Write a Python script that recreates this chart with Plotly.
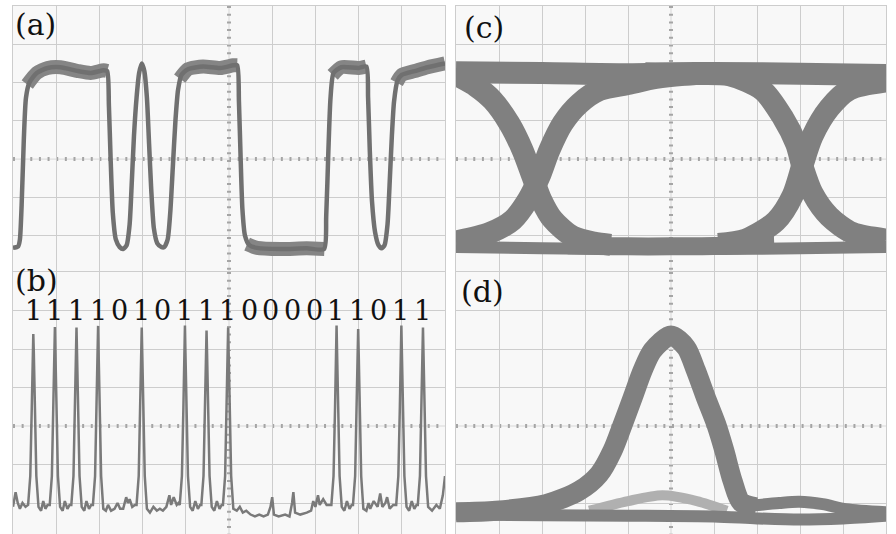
import plotly.graph_objects as go

# ---------------- data (in screen divisions: x 0..10, y -4..4) ----------------
BITS = ["1", "1", "1", "1", "0", "1", "0", "1", "1", "1", "0", "0", "0", "0", "1", "1", "0", "1", "1"]
BIT_POS = [0.47, 0.97, 1.47, 1.97, 2.47, 2.97, 3.47, 3.97, 4.47, 4.97,
           5.47, 5.97, 6.47, 6.97, 7.47, 7.97, 8.47, 8.97, 9.47]
LABELS = ["(a)", "(b)", "(c)", "(d)"]

# (a) NRZ waveform (thin trace) and its noisy plateaus (thick bands)
A_X = [0.0, 0.12, 0.16, 0.2, 0.25, 0.3, 0.38, 0.55, 0.8, 1.1, 1.5, 1.8, 2.1, 2.18,
       2.22, 2.26, 2.31, 2.38, 2.47, 2.55, 2.63, 2.7, 2.75, 2.8, 2.86, 2.92, 2.98,
       3.04, 3.1, 3.15, 3.2, 3.26, 3.34, 3.44, 3.5, 3.58, 3.64, 3.7, 3.76, 3.82, 3.9,
       4.05, 4.4, 4.8, 5.1, 5.19, 5.23, 5.27, 5.31, 5.37, 5.47, 5.65, 6.2, 6.8, 7.2,
       7.25, 7.3, 7.35, 7.42, 7.6, 8.0, 8.18, 8.22, 8.26, 8.31, 8.38, 8.46, 8.53,
       8.6, 8.67, 8.72, 8.77, 8.82, 8.9, 9.0, 9.3, 9.6, 10.0]
A_Y = [-2.32, -2.28, -2.1, -1.2, 0.5, 1.6, 2.0, 2.25, 2.38, 2.4, 2.3, 2.25, 2.32, 2.3,
       1.4, 0.0, -1.4, -2.1, -2.3, -2.35, -2.25, -1.7, -0.6, 0.6, 1.6, 2.25, 2.5,
       2.3, 1.6, 0.4, -0.8, -1.8, -2.2, -2.3, -2.3, -2.1, -1.4, -0.2, 1.0, 1.8, 2.2,
       2.35, 2.42, 2.38, 2.45, 2.45, 1.5, 0.0, -1.3, -2.0, -2.25, -2.32, -2.35, -2.33, -2.35,
       -1.5, 0.2, 1.6, 2.25, 2.4, 2.38, 2.42, 1.6, 0.2, -1.1, -1.9, -2.25, -2.33,
       -2.25, -1.7, -0.6, 0.6, 1.5, 2.05, 2.2, 2.3, 2.4, 2.5]
A_BAND_X = [0.33, 0.55, 0.8, 1.1, 1.5, 1.8, 2.1, 2.18, None,
            3.86, 4.05, 4.4, 4.8, 5.1, 5.19, None,
            7.4, 7.6, 8.0, 8.18, None,
            8.88, 9.0, 9.3, 9.6, 10.0, None,
            5.42, 5.65, 6.2, 6.8, 7.21]
A_BAND_Y = [1.95, 2.25, 2.38, 2.4, 2.3, 2.25, 2.32, 2.3, None,
            2.1, 2.35, 2.42, 2.38, 2.45, 2.45, None,
            2.2, 2.4, 2.38, 2.42, None,
            2.0, 2.2, 2.3, 2.4, 2.5, None,
            -2.22, -2.32, -2.35, -2.33, -2.35]

# (b) RZ pulse train
B_X = [0.0, 0.06, 0.11, 0.16, 0.22, 0.29,
       0.35, 0.40, 0.435, 0.458, 0.47, 0.482, 0.505, 0.54, 0.59,
       0.65, 0.70, 0.75, 0.80,
       0.85, 0.90, 0.935, 0.958, 0.97, 0.982, 1.005, 1.04, 1.09,
       1.15, 1.20, 1.26, 1.31,
       1.35, 1.40, 1.435, 1.458, 1.47, 1.482, 1.505, 1.54, 1.59,
       1.65, 1.70, 1.76, 1.81,
       1.85, 1.90, 1.935, 1.958, 1.97, 1.982, 2.005, 2.04, 2.09,
       2.15, 2.20, 2.27, 2.35, 2.42, 2.48, 2.55, 2.62, 2.66, 2.70, 2.76, 2.82,
       2.86, 2.91, 2.945, 2.968, 2.98, 2.992, 3.015, 3.05, 3.10,
       3.17, 3.25, 3.33, 3.40, 3.47, 3.55, 3.62, 3.66, 3.72, 3.79, 3.83,
       3.86, 3.91, 3.945, 3.968, 3.98, 3.992, 4.015, 4.05, 4.10,
       4.16, 4.22, 4.28, 4.33,
       4.36, 4.41, 4.445, 4.468, 4.48, 4.492, 4.515, 4.55, 4.60,
       4.66, 4.72, 4.78, 4.83,
       4.86, 4.91, 4.945, 4.968, 4.98, 4.992, 5.015, 5.05, 5.10,
       5.18, 5.25, 5.32, 5.40, 5.50, 5.60, 5.70, 5.80, 5.90, 5.96, 6.00, 6.04, 6.15,
       6.30, 6.40, 6.46, 6.49, 6.53, 6.65, 6.80, 6.90, 6.95, 7.00, 7.06, 7.10, 7.18, 7.26,
       7.37, 7.42, 7.455, 7.478, 7.49, 7.502, 7.525, 7.56, 7.61,
       7.67, 7.73, 7.79, 7.84,
       7.87, 7.92, 7.955, 7.978, 7.99, 8.002, 8.025, 8.06, 8.11,
       8.18, 8.23, 8.27, 8.35, 8.44, 8.50, 8.55, 8.62, 8.66, 8.72, 8.80,
       8.87, 8.92, 8.955, 8.978, 8.99, 9.002, 9.025, 9.06, 9.11,
       9.17, 9.23, 9.29, 9.34,
       9.37, 9.42, 9.455, 9.478, 9.49, 9.502, 9.525, 9.56, 9.61,
       9.70, 9.80, 9.88, 9.95, 10.0]
B_Y = [-2.1, -1.72, -2.0, -2.15, -2.0, -2.1,
       -2.05, -1.3, 0.5, 1.9, 2.39, 1.9, 0.5, -1.3, -2.1,
       -2.2, -1.95, -2.15, -2.05,
       -2.05, -1.3, 0.5, 1.9, 2.57, 1.9, 0.5, -1.3, -2.1,
       -2.2, -1.95, -2.15, -2.05,
       -2.05, -1.3, 0.5, 1.9, 2.56, 1.9, 0.5, -1.3, -2.1,
       -2.2, -1.95, -2.15, -2.05,
       -2.05, -1.3, 0.5, 1.9, 2.6, 1.9, 0.5, -1.3, -2.15,
       -2.2, -2.05, -2.2, -2.15, -2.0, -2.15, -2.15, -1.85, -2.0, -1.9, -2.1, -2.05,
       -2.05, -1.3, 0.5, 1.9, 2.56, 1.9, 0.5, -1.3, -2.15,
       -2.25, -2.1, -2.2, -2.15, -2.2, -2.1, -1.8, -2.05, -1.85, -2.05, -2.0,
       -2.05, -1.3, 0.5, 1.9, 2.61, 1.9, 0.5, -1.3, -2.1,
       -2.2, -1.95, -2.15, -2.05,
       -2.05, -1.3, 0.5, 1.9, 2.48, 1.9, 0.5, -1.3, -2.1,
       -2.2, -1.95, -2.15, -2.05,
       -2.05, -1.3, 0.5, 1.9, 2.56, 1.9, 0.5, -1.3, -2.15,
       -2.2, -2.1, -2.25, -2.2, -2.3, -2.35, -2.3, -2.35, -2.3, -2.1, -1.85, -2.3, -2.35,
       -2.3, -2.35, -2.0, -1.72, -2.25, -2.3, -2.25, -2.2, -1.95, -2.1, -1.8, -2.05, -1.9, -2.05,
       -2.05, -1.3, 0.5, 1.9, 2.61, 1.9, 0.5, -1.3, -2.1,
       -2.2, -1.95, -2.15, -2.05,
       -2.05, -1.3, 0.5, 1.9, 2.52, 1.9, 0.5, -1.3, -2.15,
       -2.2, -2.0, -2.15, -1.95, -2.1, -1.75, -2.1, -2.0, -1.85, -2.15, -2.05,
       -2.05, -1.3, 0.5, 1.9, 2.61, 1.9, 0.5, -1.3, -2.1,
       -2.2, -1.95, -2.15, -2.05,
       -2.05, -1.3, 0.5, 1.9, 2.56, 1.9, 0.5, -1.3, -2.1,
       -2.2, -2.05, -2.15, -1.8, -1.3]

# (c) NRZ eye diagram: rails and transition bands
C_TOP_X = [0.0, 2.0, 4.0, 5.0, 6.0, 8.0, 10.0]
C_TOP_Y = [2.27, 2.25, 2.22, 2.24, 2.25, 2.23, 2.2]
C_BOT_X = [0.0, 2.0, 4.0, 6.0, 8.0, 10.0]
C_BOT_Y = [-2.3, -2.33, -2.35, -2.35, -2.33, -2.3]
C_MID_X = [2.6, 4.0, 5.0, 6.0, 7.4]
C_MID_Y = [-2.25, -2.28, -2.28, -2.27, -2.22]
C_FALL1_X = [0.0, 0.47, 0.85, 1.24, 1.55, 1.78, 1.98, 2.25, 2.71, 3.2, 3.6]
C_FALL1_Y = [2.2, 1.9, 1.54, 0.93, 0.23, -0.46, -1.06, -1.58, -2.02, -2.18, -2.24]
C_RISE1_X = [0.0, 0.78, 1.32, 1.67, 1.94, 2.17, 2.48, 2.87, 3.33, 4.03, 4.65, 5.3, 6.0]
C_RISE1_Y = [-2.15, -1.93, -1.59, -1.07, -0.46, 0.23, 0.93, 1.45, 1.8, 1.97, 2.12, 2.2, 2.24]
C_FALL2_X = [4.4, 5.3, 6.36, 7.13, 7.6, 7.91, 8.06, 8.29, 8.68, 9.22, 10.0]
C_FALL2_Y = [2.24, 2.22, 2.19, 1.8, 1.09, 0.4, -0.2, -0.89, -1.5, -1.93, -2.1]
C_RISE2_X = [6.1, 6.74, 7.44, 7.83, 8.06, 8.29, 8.68, 9.15, 10.0]
C_RISE2_Y = [-2.22, -2.1, -1.62, -0.95, -0.15, 0.6, 1.33, 1.82, 2.03]

# (d) RZ eye diagram
D_BOT_X = [0.0, 2.0, 4.0, 6.0, 7.0, 8.0, 9.0, 10.0]
D_BOT_Y = [-2.3, -2.32, -2.33, -2.35, -2.4, -2.43, -2.4, -2.33]
D_PULSE_X = [0.0, 0.93, 2.09, 2.87, 3.33, 3.64, 3.88, 4.11, 4.34, 4.57, 5.0,
             5.35, 5.58, 5.81, 6.05, 6.24, 6.43, 6.63, 6.98]
D_PULSE_Y = [-2.24, -2.2, -2.03, -1.68, -1.25, -0.64, 0.05, 0.74, 1.44, 1.96, 2.35,
             2.04, 1.44, 0.74, 0.05, -0.64, -1.42, -1.98, -2.11]
D_HUMP_X = [6.6, 7.52, 7.98, 8.53, 9.07, 10.0]
D_HUMP_Y = [-2.1, -2.0, -1.97, -2.03, -2.16, -2.24]
D_ZERO_X = [3.1, 4.0, 4.8, 5.6, 6.3]
D_ZERO_Y = [-2.2, -1.95, -1.8, -1.95, -2.2]

# ---------------- figure ----------------
W, H = 896, 534
XL = [13 / W, 445 / W]
XR = [456 / W, 886 / W]
YT = [1 - 272 / H, 1 - 6 / H]
YB = [0.0, 1 - 272 / H]
RANGE_T = [-2.95, 4]
RANGE_B = [-2.805, 4]

GRID = "#cdcdcd"
BAND = "#808080"
TRACE = "#707070"
SERIF = "DejaVu Serif"

fig = go.Figure()

def line(x, y, ax, width, color, shape="spline", smoothing=0.8):
    xa, ya = ax
    fig.add_trace(go.Scatter(
        x=x, y=y, xaxis=xa, yaxis=ya, mode="lines",
        line=dict(width=width, color=color, shape=shape,
                  smoothing=smoothing if shape == "spline" else None),
        hoverinfo="skip", showlegend=False, connectgaps=False))

AX = {"a": ("x", "y"), "b": ("x2", "y2"), "c": ("x3", "y3"), "d": ("x4", "y4")}

# (a)
line(A_BAND_X, A_BAND_Y, AX["a"], 14, "#858585", smoothing=0.6)
line(A_X, A_Y, AX["a"], 4.5, TRACE, smoothing=0.6)
# (b)
line(B_X, B_Y, AX["b"], 2.5, "#7a7a7a", shape="linear")
# (c)
line(C_BOT_X, C_BOT_Y, AX["c"], 12, BAND)
line(C_MID_X, C_MID_Y, AX["c"], 18, BAND)
line(C_TOP_X, C_TOP_Y, AX["c"], 22, BAND)
line(C_FALL1_X, C_FALL1_Y, AX["c"], 22, BAND)
line(C_RISE1_X, C_RISE1_Y, AX["c"], 22, BAND)
line(C_FALL2_X, C_FALL2_Y, AX["c"], 22, BAND)
line(C_RISE2_X, C_RISE2_Y, AX["c"], 22, BAND)
# (d)
line(D_ZERO_X, D_ZERO_Y, AX["d"], 10, "#b0b0b0")
line(D_BOT_X, D_BOT_Y, AX["d"], 12, BAND)
line(D_HUMP_X, D_HUMP_Y, AX["d"], 12, BAND)
line(D_PULSE_X, D_PULSE_Y, AX["d"], 20, BAND)

def xaxis(dom):
    return dict(domain=dom, range=[0, 10], tickvals=[1, 2, 3, 4, 6, 7, 8, 9],
                showgrid=True, gridcolor=GRID, gridwidth=1, showticklabels=False,
                ticks="", zeroline=False, showline=True, linecolor=GRID,
                linewidth=1, side="top", fixedrange=True)

def yaxis(dom, rng, anchor):
    return dict(domain=dom, range=rng, tickvals=[-2, -1, 1, 2, 3],
                showgrid=True, gridcolor=GRID, gridwidth=1, showticklabels=False,
                ticks="", zeroline=False, showline=True, mirror=True,
                linecolor=GRID, linewidth=1, anchor=anchor, fixedrange=True)

fig.update_layout(
    width=W, height=H, margin=dict(l=0, r=0, t=0, b=0),
    paper_bgcolor="#ffffff", plot_bgcolor="#f8f8f8",
    xaxis=dict(xaxis(XL), anchor="y"), yaxis=yaxis(YT, RANGE_T, "x"),
    xaxis2=dict(xaxis(XL), anchor="y2"), yaxis2=yaxis(YB, RANGE_B, "x2"),
    xaxis3=dict(xaxis(XR), anchor="y3"), yaxis3=yaxis(YT, RANGE_T, "x3"),
    xaxis4=dict(xaxis(XR), anchor="y4"), yaxis4=yaxis(YB, RANGE_B, "x4"),
)

# centre cross lines with graticule ticks
shapes = []
for xa, ya in AX.values():
    shapes += [
        dict(type="line", xref=f"{xa} domain", yref=ya, x0=0, x1=1, y0=0, y1=0,
             line=dict(color="#d8d8d8", width=1), layer="below"),
        dict(type="line", xref=f"{xa} domain", yref=ya, x0=0, x1=1, y0=0, y1=0,
             line=dict(color="#a5a5a5", width=4, dash="2px,6.64px"), layer="below"),
        dict(type="line", xref=xa, yref=f"{ya} domain", x0=5, x1=5, y0=1, y1=0,
             line=dict(color="#d8d8d8", width=1), layer="below"),
        dict(type="line", xref=xa, yref=f"{ya} domain", x0=5, x1=5, y0=1, y1=0,
             line=dict(color="#a5a5a5", width=4, dash="2px,5.7px"), layer="below"),
    ]
fig.update_layout(shapes=shapes)

ann = []
LABEL_SHIFT = {"a": (0, 1), "b": (0, 11), "c": (6, -2), "d": (3, 0)}
for key, txt in zip(["a", "b", "c", "d"], LABELS):
    xa, ya = AX[key]
    dx, dy = LABEL_SHIFT[key]
    ann.append(dict(text=txt, xref=f"{xa} domain", yref=f"{ya} domain", x=0, y=1,
                    xanchor="left", yanchor="top", xshift=dx, yshift=dy,
                    showarrow=False,
                    font=dict(family=SERIF, size=30, color="#111111")))
for b, p in zip(BITS, BIT_POS):
    ann.append(dict(text=b, xref="x2", yref="y2", x=p, y=3.0, showarrow=False,
                    xanchor="center", yanchor="middle", yshift=0,
                    font=dict(family=SERIF, size=27, color="#111111")))
fig.update_layout(annotations=ann)

fig.write_html("out.html", config={"displayModeBar": False},
               post_script="document.body.style.margin='0px';")
